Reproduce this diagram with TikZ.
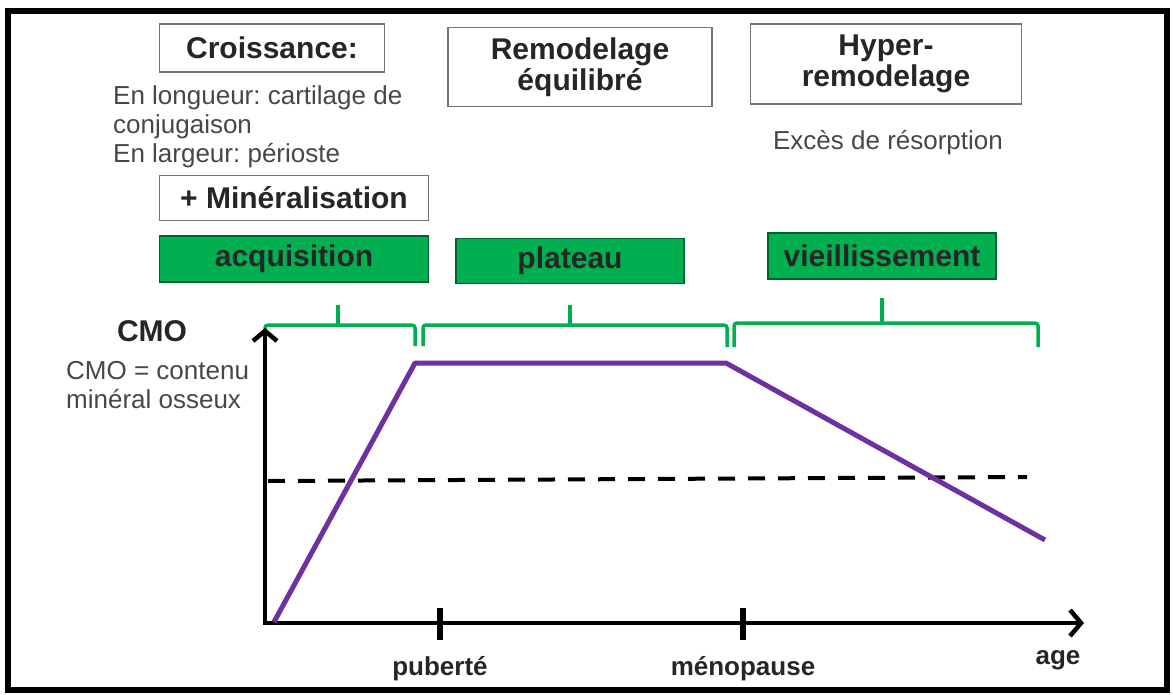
\documentclass[tikz,border=0pt]{standalone}
\usepackage{fontspec}
\setmainfont{Liberation Sans}
\usetikzlibrary{arrows.meta}
\definecolor{vert}{HTML}{00B050}
\definecolor{courbe}{HTML}{7030A0}
\frenchspacing

\begin{document}
\begin{tikzpicture}[x=1pt,y=-1pt]
			\tikzstyle{boite} = [draw=black!55, line width=1.6pt, fill=white, text=black!85, font=\bfseries\fontsize{30}{31}\selectfont, align=center, inner sep=0pt]
			\tikzstyle{phase} = [boite, draw=vert!55!black, fill=vert]
			\tikzstyle{txt} = [text=black!72, font=\fontsize{26}{29}\selectfont, align=left, inner sep=0pt]
			\tikzstyle{lbl} = [text=black!85, font=\bfseries\fontsize{26}{28}\selectfont, inner sep=0pt]
			\tikzstyle{acc} = [vert, line width=3.5pt, rounded corners=3pt]
			\tikzstyle{es} = [{Straight Barb[length=10pt,width=24pt]}-{Straight Barb[length=11pt,width=26pt]}]
			\useasboundingbox (0,0) rectangle (1173,695);
			\draw [line width=6pt] (8,11) rectangle (1167,690);
			\node [boite, minimum width=225, minimum height=48] (b1) at (272,48) {Croissance:};
			\node [boite, minimum width=264, minimum height=79] (b2) at (580,67) {Remodelage\\équilibré};
			\node [boite, minimum width=271, minimum height=80] (b3) at (886,64) {Hyper-\\remodelage};
			\node [txt, anchor=north west] (t1) at (113,85) {En longueur: cartilage de\\conjugaison\\En largeur: périoste};
			\node [txt] (t2) at (888,143) {Excès de résorption};
			\node [boite, minimum width=269, minimum height=45] (b4) at (294,198) {+ Minéralisation};
			\node [phase, minimum width=269, minimum height=46] (p1) at (294,259) {acquisition};
			\node [phase, minimum width=228, minimum height=45] (p2) at (570,261) {plateau};
			\node [phase, minimum width=228, minimum height=46] (p3) at (882,256) {vieillissement};
			\draw [acc] (265,338) -- (265,325) -- (415,325) -- (415,346);
			\draw [acc] (338,325) -- (338,305);
			\draw [acc] (423,346) -- (423,325) -- (727,325) -- (727,347);
			\draw [acc] (570,325) -- (570,305);
			\draw [acc] (734,347) -- (734,323) -- (1038,323) -- (1038,347);
			\draw [acc] (882,323) -- (882,298);
			\node [lbl, font=\bfseries\fontsize{30}{31}\selectfont] (y1) at (152,331) {CMO};
			\node [txt, anchor=north west] (y2) at (66,361) {CMO = contenu\\minéral osseux};
			\coordinate (o) at (265,623);
			\coordinate (ytop) at (265,328);
			\coordinate (xend) at (1084,623);
			\draw [es, line width=4.5pt] (ytop) -- (o) -- (xend);
			\coordinate (k1) at (440,608);
			\coordinate (k2) at (440,640);
			\coordinate (k3) at (743,608);
			\coordinate (k4) at (743,640);
			\draw [line width=5.5pt] (k1) -- (k2);
			\draw [line width=5.5pt] (k3) -- (k4);
			\node [lbl] (x1) at (440,669) {puberté};
			\node [lbl] (x2) at (743,669) {ménopause};
			\node [lbl] (x3) at (1058,660) {age};
			\coordinate (d1) at (268,481);
			\coordinate (d2) at (1027,477);
			\draw [line width=4pt, dash pattern=on 17pt off 13pt] (d1) -- (d2);
			\coordinate (c1) at (274,622);
			\coordinate (c2) at (415,363);
			\coordinate (c3) at (726,363);
			\coordinate (c4) at (1045,540);
			\draw [courbe, line width=5pt, line join=round] (c1) -- (c2) -- (c3) -- (c4);
		\end{tikzpicture}
\end{document}
